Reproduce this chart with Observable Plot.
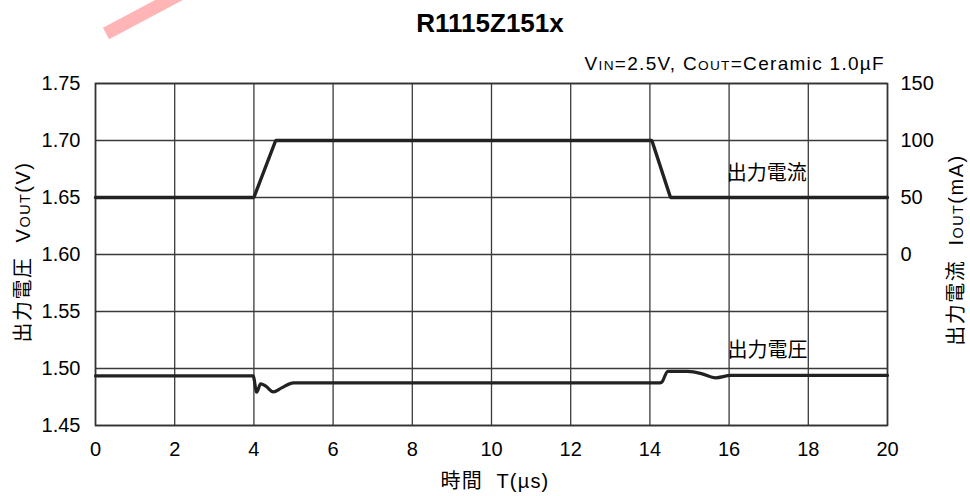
<!DOCTYPE html>
<html>
<head>
<meta charset="utf-8">
<script src="https://cdn.jsdelivr.net/npm/d3@7"></script>
<script src="https://cdn.jsdelivr.net/npm/@observablehq/plot@0.6"></script>
<style>
  html, body { margin: 0; padding: 0; background: #fff; overflow: hidden; }
  #wrap { position: relative; width: 970px; height: 496px; font-family: "Liberation Sans", Arial, "Noto Sans CJK JP", sans-serif; color: #000; }
  #wrap svg { position: absolute; left: 0; top: 0; }
  .lbl { position: absolute; white-space: nowrap; line-height: 1; }
  .sm { font-size: 0.72em; }
  #wm { position: absolute; left: 106px; top: 27px; width: 95px; height: 13px; background: #ffb5b5; transform-origin: 0 50%; transform: rotate(-28deg); }
</style>
</head>
<body>
<div id="wrap">
  <div id="chart"></div>
  <div id="wm"></div>
  <div class="lbl" style="left:490px; top:23px; transform:translate(-50%,-50%); font-size:26px; font-weight:bold;">R1115Z151x</div>
  <div class="lbl" style="right:85px; top:54px; font-size:19px; letter-spacing:1.3px;">V<span class="sm">IN</span>=2.5V, C<span class="sm">OUT</span>=Ceramic 1.0µF</div>
  <div class="lbl" style="left:495px; top:481px; transform:translate(-50%,-50%); font-size:20px; letter-spacing:1.2px;">時間&nbsp;&nbsp;T(µs)</div>
  <div class="lbl" style="left:23px; top:252px; transform:translate(-50%,-50%) rotate(-90deg); font-size:20px; letter-spacing:1.5px;">出力電圧&nbsp;&nbsp;V<span class="sm">OUT</span>(V)</div>
  <div class="lbl" style="left:956px; top:250px; transform:translate(-50%,-50%) rotate(-90deg); font-size:20px; letter-spacing:1.5px;">出力電流&nbsp;&nbsp;I<span class="sm">OUT</span>(mA)</div>
</div>
<script>
// ---- data ----
const xTicks = [0, 2, 4, 6, 8, 10, 12, 14, 16, 18, 20];
const yTicks = [1.45, 1.50, 1.55, 1.60, 1.65, 1.70, 1.75];
const currentTicks = [0, 50, 100, 150];            // mA, right axis

// output current (mA) vs time (µs)
const iTimes = [0, 4.0, 4.55, 14.05, 14.52, 20];
const iValues = [50, 50, 100, 100, 50, 50];

// output voltage (V) vs time (µs)
const vTimes = [0, 3.98, 4.07, 4.17, 4.30, 4.49, 4.70, 5.0, 14.25, 14.30, 14.45, 14.95, 15.30, 15.66, 16.04, 20];
const vValues = [1.4936, 1.4936, 1.4792, 1.4866, 1.4845, 1.4795, 1.4830, 1.4874, 1.4874, 1.4880, 1.4976, 1.4974, 1.4955, 1.4918, 1.4939, 1.4939];

// curve labels (x in µs, y in V)
const labelText = ["出力電流", "出力電圧"];
const labelX = [16.95, 16.97];
const labelY = [1.671, 1.516];

// current axis mapping: 0 mA at 1.60 V, 50 mA per 0.05 V
const iOffset = 1.60, iScale = 1 / 1000;

const iData = iTimes.map((t, k) => ({t, i: iValues[k]}));
const vData = vTimes.map((t, k) => ({t, v: vValues[k]}));
const lblData = labelText.map((s, k) => ({s, x: labelX[k], y: labelY[k]}));

const gridColor = "#3a3a3a";
const chart = Plot.plot({
  width: 970,
  height: 496,
  marginLeft: 95,
  marginRight: 83,
  marginTop: 83,
  marginBottom: 71,
  style: {fontFamily: '"Liberation Sans", Arial, "Noto Sans CJK JP", sans-serif', fontSize: "20px", color: "#000", background: "transparent"},
  x: {domain: [0, 20]},
  y: {domain: [1.45, 1.75]},
  marks: [
    Plot.gridX(xTicks, {stroke: gridColor, strokeOpacity: 1, strokeWidth: 1.3}),
    Plot.gridY(yTicks, {stroke: gridColor, strokeOpacity: 1, strokeWidth: 1.3}),
    Plot.axisX(xTicks, {tickSize: 0, tickPadding: 16, label: null, tickFormat: d => String(d)}),
    Plot.axisY(yTicks, {tickSize: 0, tickPadding: 15, label: null, tickFormat: d => d.toFixed(2)}),
    Plot.axisY(currentTicks.map(c => iOffset + c * iScale), {anchor: "right", tickSize: 0, tickPadding: 13, label: null, tickFormat: v => String(Math.round((v - iOffset) / iScale))}),
    Plot.frame({stroke: "#333", strokeWidth: 1.6}),
    Plot.line(iData, {x: "t", y: d => iOffset + d.i * iScale, stroke: "#222", strokeWidth: 3.4, strokeLinejoin: "miter"}),
    Plot.line(vData, {x: "t", y: "v", stroke: "#222", strokeWidth: 3.2, curve: "monotone-x"}),
    Plot.text(lblData, {x: "x", y: "y", text: "s", fontSize: 20, fill: "#000", fontFamily: '"Noto Sans CJK JP", sans-serif'})
  ]
});
document.getElementById("chart").appendChild(chart);
</script>
</body>
</html>
